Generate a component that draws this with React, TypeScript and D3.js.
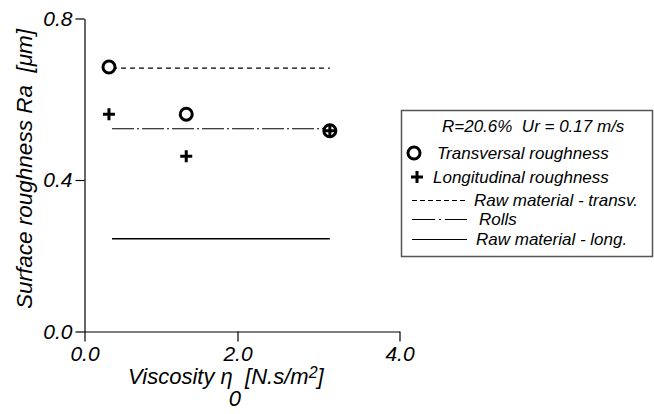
import { useEffect, useRef } from 'react';
import * as d3 from 'd3';

// values
const viscosity = [0.32, 1.33, 3.14];
const transversal = [0.68, 0.563, 0.522];
const longitudinal = [0.563, 0.459, 0.522];
const refNames = ['Raw material - transv.', 'Rolls', 'Raw material - long.'];
const refValues = [0.677, 0.527, 0.245];
const refDash = ['5,4', '22,3,2,3', null];
const refExtent = [0.36, 3.14];
const xTicks = [0, 2, 4];
const yTicks = [0, 0.4, 0.8];

const FONT = '"Liberation Sans", Arial, sans-serif';

function App() {
    const svgRef = useRef<SVGSVGElement>(null);

    useEffect(() => {
        if (!svgRef.current) return;
        const svg = d3.select(svgRef.current);
        svg.selectAll('*').remove();

        const x = d3.scaleLinear().domain([0, 2, 4]).range([84.5, 237.5, 399.5]);
        const y = d3.scaleLinear().domain([0, 0.4, 0.8]).range([331.5, 180, 18.5]);

        // reference lines
        refValues.forEach((v, i) => {
            const l = svg.append('line')
                .attr('x1', x(refExtent[0])).attr('x2', x(refExtent[1]))
                .attr('y1', y(v)).attr('y2', y(v))
                .attr('stroke', '#000')
                .attr('stroke-width', i === 2 ? 1.6 : 1.1);
            if (refDash[i]) l.attr('stroke-dasharray', refDash[i]);
        });

        // axes
        const yAxis = d3.axisLeft(y).tickValues(yTicks).tickSize(9).tickSizeOuter(0).tickPadding(3)
            .tickFormat((d) => d3.format('.1f')(d as number));
        const xAxis = d3.axisBottom(x).tickValues(xTicks).tickSize(10).tickSizeOuter(0).tickPadding(5)
            .tickFormat((d) => d3.format('.1f')(d as number));

        const gy = svg.append('g').attr('transform', 'translate(84.5,0)').call(yAxis);
        const gx = svg.append('g').attr('transform', `translate(0,${y(0)})`).call(xAxis);
        [gx, gy].forEach((g) => {
            g.selectAll('path, line').attr('stroke', '#000').attr('stroke-width', 1.2);
            g.selectAll('text')
                .attr('font-family', FONT)
                .attr('font-style', 'italic')
                .attr('font-size', 21)
                .attr('fill', '#000');
        });

        // markers
        const plus = (g: d3.Selection<SVGGElement, unknown, null, undefined>, cx: number, cy: number) => {
            g.append('path')
                .attr('d', `M${cx - 6},${cy}H${cx + 6}M${cx},${cy - 6}V${cy + 6}`)
                .attr('stroke', '#000')
                .attr('stroke-width', 3);
        };
        const circle = (g: d3.Selection<SVGGElement, unknown, null, undefined>, cx: number, cy: number) => {
            g.append('circle')
                .attr('cx', cx).attr('cy', cy).attr('r', 6)
                .attr('fill', '#fff')
                .attr('stroke', '#000')
                .attr('stroke-width', 3);
        };

        const marks = svg.append('g');
        viscosity.forEach((v, i) => circle(marks, x(v), y(transversal[i])));
        viscosity.forEach((v, i) => plus(marks, x(v), y(longitudinal[i])));

        // axis titles
        svg.append('text')
            .attr('transform', 'translate(32,169) rotate(-90)')
            .attr('text-anchor', 'middle')
            .attr('font-family', FONT)
            .attr('font-style', 'italic')
            .attr('font-size', 22.5)
            .text('Surface roughness Ra\u00a0\u00a0[\u03bcm]');

        const xt = svg.append('text')
            .attr('x', 128)
            .attr('y', 384)
            .attr('font-family', FONT)
            .attr('font-style', 'italic')
            .attr('font-size', 22);
        xt.append('tspan').text('Viscosity \u03b7');
        xt.append('tspan').attr('dy', 22).attr('dx', -4).text('0');
        xt.append('tspan').attr('dy', -22).attr('dx', -2).text(' [N.s/m');
        xt.append('tspan').attr('dy', -6).attr('font-size', 16).text('2');
        xt.append('tspan').attr('dy', 6).text(']');

        // legend
        const lg = svg.append('g');
        lg.append('rect')
            .attr('x', 401.5).attr('y', 110.5)
            .attr('width', 251).attr('height', 146)
            .attr('fill', '#fff')
            .attr('stroke', '#555')
            .attr('stroke-width', 1.5);
        const lt = (tx: number, ty: number, s: string) => lg.append('text')
            .attr('x', tx).attr('y', ty)
            .attr('font-family', FONT)
            .attr('font-style', 'italic')
            .attr('font-size', 17)
            .text(s);
        lt(442, 132, 'R=20.6%\u00a0\u00a0Ur = 0.17 m/s');
        circle(lg, 414, 153);
        lt(437, 159, 'Transversal roughness');
        plus(lg, 417, 177);
        lt(433, 183, 'Longitudinal roughness');
        const rowY = [200, 219, 239];
        const textX = [474, 479, 476];
        refNames.forEach((name, i) => {
            const l = lg.append('line')
                .attr('x1', 412).attr('x2', 467)
                .attr('y1', rowY[i] + 0.5).attr('y2', rowY[i] + 0.5)
                .attr('stroke', '#000')
                .attr('stroke-width', 1.1);
            if (refDash[i]) l.attr('stroke-dasharray', i === 1 ? '23,4,2,4' : '5,3');
            lt(textX[i], rowY[i] + 6, name);
        });
    }, []);

    return (
        <svg ref={svgRef} width={654} height={414}
            style={{ position: 'absolute', left: 0, top: 0, background: '#fff' }}></svg>
    );
}

export default App;
